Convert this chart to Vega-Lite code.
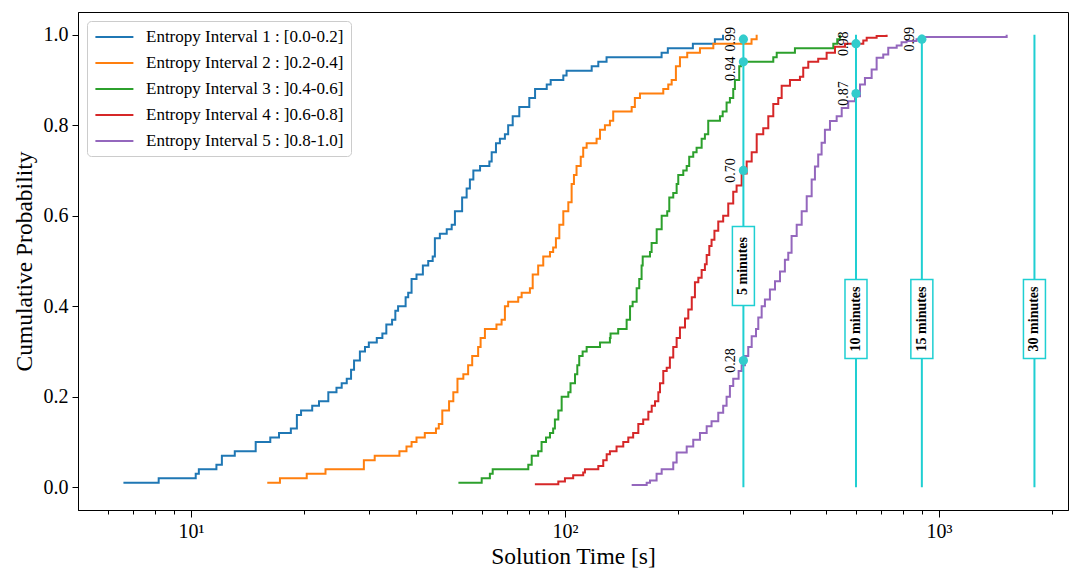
{
  "$schema": "https://vega.github.io/schema/vega-lite/v6.json",
  "width": 990,
  "height": 498,
  "autosize": {"type": "none"},
  "padding": {"left": 78, "top": 12, "right": 1, "bottom": 58},
  "background": "white",
  "config": {
    "font": "Liberation Serif",
    "view": {"stroke": "#000000", "strokeWidth": 1},
    "axis": {
      "labelFont": "Liberation Serif",
      "titleFont": "Liberation Serif",
      "labelColor": "#000000",
      "titleColor": "#000000",
      "domainColor": "#000000",
      "tickColor": "#000000",
      "grid": false,
      "titleFontWeight": "normal",
      "labelFontSize": 20,
      "titleFontSize": 23.5
    },
    "legend": {
      "orient": "none",
      "legendX": 9,
      "legendY": 9,
      "labelFont": "Liberation Serif",
      "labelFontSize": 17,
      "labelColor": "#000000",
      "labelLimit": 400,
      "symbolType": "M-1,0H4",
      "symbolStrokeWidth": 2,
      "symbolSize": 231,
      "padding": 7,
      "rowPadding": 9,
      "labelOffset": 34,
      "strokeColor": "#cccccc",
      "fillColor": "#ffffff",
      "cornerRadius": 4
    }
  },
  "datasets": {
    "series": [
      {"curve": 1, "label": "Entropy Interval 1 : [0.0-0.2]"},
      {"curve": 2, "label": "Entropy Interval 2 : ]0.2-0.4]"},
      {"curve": 3, "label": "Entropy Interval 3 : ]0.4-0.6]"},
      {"curve": 4, "label": "Entropy Interval 4 : ]0.6-0.8]"},
      {"curve": 5, "label": "Entropy Interval 5 : ]0.8-1.0]"}
    ],
    "curves": [
      {"curve": 1, "t": 6.6, "p": 0.01}, {"curve": 1, "t": 8.2, "p": 0.02}, {"curve": 1, "t": 10.3, "p": 0.03}, {"curve": 1, "t": 10.5, "p": 0.04},
      {"curve": 1, "t": 11.7, "p": 0.05}, {"curve": 1, "t": 12.1, "p": 0.07}, {"curve": 1, "t": 13.1, "p": 0.08}, {"curve": 1, "t": 14.9, "p": 0.10},
      {"curve": 1, "t": 16.3, "p": 0.11}, {"curve": 1, "t": 17.2, "p": 0.12}, {"curve": 1, "t": 18.5, "p": 0.13}, {"curve": 1, "t": 19.2, "p": 0.16},
      {"curve": 1, "t": 19.7, "p": 0.17}, {"curve": 1, "t": 21.1, "p": 0.18}, {"curve": 1, "t": 22.0, "p": 0.19}, {"curve": 1, "t": 23.3, "p": 0.21},
      {"curve": 1, "t": 24.5, "p": 0.22}, {"curve": 1, "t": 25.3, "p": 0.23}, {"curve": 1, "t": 26.1, "p": 0.24}, {"curve": 1, "t": 26.8, "p": 0.26},
      {"curve": 1, "t": 27.3, "p": 0.28}, {"curve": 1, "t": 28.3, "p": 0.30}, {"curve": 1, "t": 29.2, "p": 0.31}, {"curve": 1, "t": 29.9, "p": 0.32},
      {"curve": 1, "t": 31.4, "p": 0.33}, {"curve": 1, "t": 32.5, "p": 0.34}, {"curve": 1, "t": 33.3, "p": 0.36}, {"curve": 1, "t": 34.5, "p": 0.37},
      {"curve": 1, "t": 35.2, "p": 0.39}, {"curve": 1, "t": 35.8, "p": 0.40}, {"curve": 1, "t": 37.5, "p": 0.42}, {"curve": 1, "t": 38.1, "p": 0.43},
      {"curve": 1, "t": 38.9, "p": 0.46}, {"curve": 1, "t": 40.1, "p": 0.47}, {"curve": 1, "t": 41.7, "p": 0.49}, {"curve": 1, "t": 43.1, "p": 0.50},
      {"curve": 1, "t": 44.3, "p": 0.51}, {"curve": 1, "t": 44.9, "p": 0.55}, {"curve": 1, "t": 46.3, "p": 0.56}, {"curve": 1, "t": 48.3, "p": 0.57},
      {"curve": 1, "t": 49.8, "p": 0.58}, {"curve": 1, "t": 50.8, "p": 0.61}, {"curve": 1, "t": 53.1, "p": 0.64}, {"curve": 1, "t": 54.6, "p": 0.66},
      {"curve": 1, "t": 55.7, "p": 0.68}, {"curve": 1, "t": 56.9, "p": 0.70}, {"curve": 1, "t": 59.3, "p": 0.71}, {"curve": 1, "t": 62.8, "p": 0.72},
      {"curve": 1, "t": 63.7, "p": 0.74}, {"curve": 1, "t": 65.4, "p": 0.76}, {"curve": 1, "t": 67.0, "p": 0.77}, {"curve": 1, "t": 69.1, "p": 0.78},
      {"curve": 1, "t": 70.5, "p": 0.80}, {"curve": 1, "t": 72.5, "p": 0.82}, {"curve": 1, "t": 75.5, "p": 0.84}, {"curve": 1, "t": 80.3, "p": 0.86},
      {"curve": 1, "t": 83.2, "p": 0.88}, {"curve": 1, "t": 89.4, "p": 0.89}, {"curve": 1, "t": 91.6, "p": 0.90}, {"curve": 1, "t": 99.0, "p": 0.91},
      {"curve": 1, "t": 101, "p": 0.92}, {"curve": 1, "t": 117.9, "p": 0.93}, {"curve": 1, "t": 122.8, "p": 0.94}, {"curve": 1, "t": 129.2, "p": 0.95},
      {"curve": 1, "t": 181.3, "p": 0.96}, {"curve": 1, "t": 188.4, "p": 0.97}, {"curve": 1, "t": 219.8, "p": 0.98}, {"curve": 1, "t": 251.7, "p": 0.99},
      {"curve": 1, "t": 264.6, "p": 1.00},

      {"curve": 2, "t": 16.0, "p": 0.01}, {"curve": 2, "t": 17.3, "p": 0.02}, {"curve": 2, "t": 20.4, "p": 0.03}, {"curve": 2, "t": 22.9, "p": 0.04},
      {"curve": 2, "t": 29.0, "p": 0.06}, {"curve": 2, "t": 31.0, "p": 0.07}, {"curve": 2, "t": 36.1, "p": 0.08}, {"curve": 2, "t": 37.7, "p": 0.09},
      {"curve": 2, "t": 38.9, "p": 0.10}, {"curve": 2, "t": 40.1, "p": 0.11}, {"curve": 2, "t": 42.2, "p": 0.12}, {"curve": 2, "t": 45.2, "p": 0.13},
      {"curve": 2, "t": 46.0, "p": 0.14}, {"curve": 2, "t": 47.0, "p": 0.17}, {"curve": 2, "t": 49.0, "p": 0.19}, {"curve": 2, "t": 50.3, "p": 0.21},
      {"curve": 2, "t": 51.6, "p": 0.24}, {"curve": 2, "t": 53.5, "p": 0.25}, {"curve": 2, "t": 55.1, "p": 0.27}, {"curve": 2, "t": 56.5, "p": 0.29},
      {"curve": 2, "t": 58.6, "p": 0.31}, {"curve": 2, "t": 59.5, "p": 0.33}, {"curve": 2, "t": 61.1, "p": 0.35}, {"curve": 2, "t": 65.6, "p": 0.36},
      {"curve": 2, "t": 67.7, "p": 0.37}, {"curve": 2, "t": 69.1, "p": 0.40}, {"curve": 2, "t": 70.5, "p": 0.41}, {"curve": 2, "t": 75.0, "p": 0.42},
      {"curve": 2, "t": 76.6, "p": 0.43}, {"curve": 2, "t": 80.6, "p": 0.44}, {"curve": 2, "t": 82.0, "p": 0.47}, {"curve": 2, "t": 84.8, "p": 0.49},
      {"curve": 2, "t": 87.5, "p": 0.51}, {"curve": 2, "t": 91.2, "p": 0.52}, {"curve": 2, "t": 93.0, "p": 0.53}, {"curve": 2, "t": 94.6, "p": 0.55},
      {"curve": 2, "t": 96.6, "p": 0.58}, {"curve": 2, "t": 99.0, "p": 0.61}, {"curve": 2, "t": 102.1, "p": 0.63}, {"curve": 2, "t": 104.2, "p": 0.67},
      {"curve": 2, "t": 105.7, "p": 0.69}, {"curve": 2, "t": 107.4, "p": 0.71}, {"curve": 2, "t": 110.2, "p": 0.73}, {"curve": 2, "t": 111.9, "p": 0.75},
      {"curve": 2, "t": 114.3, "p": 0.76}, {"curve": 2, "t": 121.5, "p": 0.77}, {"curve": 2, "t": 124.1, "p": 0.79}, {"curve": 2, "t": 127.9, "p": 0.80},
      {"curve": 2, "t": 131.9, "p": 0.81}, {"curve": 2, "t": 134.6, "p": 0.83}, {"curve": 2, "t": 150.8, "p": 0.84}, {"curve": 2, "t": 153.8, "p": 0.86},
      {"curve": 2, "t": 158.7, "p": 0.87}, {"curve": 2, "t": 183.2, "p": 0.88}, {"curve": 2, "t": 188.9, "p": 0.89}, {"curve": 2, "t": 192.9, "p": 0.90},
      {"curve": 2, "t": 198.0, "p": 0.93}, {"curve": 2, "t": 203.0, "p": 0.95}, {"curve": 2, "t": 212.3, "p": 0.96}, {"curve": 2, "t": 229.6, "p": 0.97},
      {"curve": 2, "t": 249.3, "p": 0.98}, {"curve": 2, "t": 315.4, "p": 0.99}, {"curve": 2, "t": 325.5, "p": 1.00},

      {"curve": 3, "t": 51.9, "p": 0.01}, {"curve": 3, "t": 59.9, "p": 0.02}, {"curve": 3, "t": 63.0, "p": 0.03}, {"curve": 3, "t": 64.1, "p": 0.04},
      {"curve": 3, "t": 79.8, "p": 0.05}, {"curve": 3, "t": 81.5, "p": 0.07}, {"curve": 3, "t": 84.8, "p": 0.08}, {"curve": 3, "t": 86.6, "p": 0.10},
      {"curve": 3, "t": 89.0, "p": 0.11}, {"curve": 3, "t": 91.2, "p": 0.12}, {"curve": 3, "t": 93.0, "p": 0.13}, {"curve": 3, "t": 94.0, "p": 0.15},
      {"curve": 3, "t": 96.0, "p": 0.17}, {"curve": 3, "t": 98.0, "p": 0.20}, {"curve": 3, "t": 102.1, "p": 0.21}, {"curve": 3, "t": 103.5, "p": 0.23},
      {"curve": 3, "t": 106.4, "p": 0.25}, {"curve": 3, "t": 107.9, "p": 0.27}, {"curve": 3, "t": 109.2, "p": 0.29}, {"curve": 3, "t": 111.5, "p": 0.30},
      {"curve": 3, "t": 114.3, "p": 0.31}, {"curve": 3, "t": 124.1, "p": 0.32}, {"curve": 3, "t": 131.9, "p": 0.33}, {"curve": 3, "t": 132.4, "p": 0.34},
      {"curve": 3, "t": 138.8, "p": 0.35}, {"curve": 3, "t": 146.2, "p": 0.37}, {"curve": 3, "t": 149.3, "p": 0.40}, {"curve": 3, "t": 151.7, "p": 0.41},
      {"curve": 3, "t": 155.5, "p": 0.44}, {"curve": 3, "t": 158.0, "p": 0.46}, {"curve": 3, "t": 160.3, "p": 0.49}, {"curve": 3, "t": 161.4, "p": 0.51},
      {"curve": 3, "t": 168.8, "p": 0.52}, {"curve": 3, "t": 170.5, "p": 0.54}, {"curve": 3, "t": 175.9, "p": 0.57}, {"curve": 3, "t": 181.4, "p": 0.60},
      {"curve": 3, "t": 187.7, "p": 0.61}, {"curve": 3, "t": 190.1, "p": 0.64}, {"curve": 3, "t": 194.8, "p": 0.65}, {"curve": 3, "t": 198.9, "p": 0.67},
      {"curve": 3, "t": 200.9, "p": 0.69}, {"curve": 3, "t": 207.2, "p": 0.70}, {"curve": 3, "t": 211.6, "p": 0.71}, {"curve": 3, "t": 214.9, "p": 0.73},
      {"curve": 3, "t": 220.3, "p": 0.74}, {"curve": 3, "t": 224.9, "p": 0.75}, {"curve": 3, "t": 232.0, "p": 0.77}, {"curve": 3, "t": 236.7, "p": 0.78},
      {"curve": 3, "t": 241.6, "p": 0.81}, {"curve": 3, "t": 259.7, "p": 0.82}, {"curve": 3, "t": 264.1, "p": 0.83}, {"curve": 3, "t": 270.5, "p": 0.85},
      {"curve": 3, "t": 276.1, "p": 0.86}, {"curve": 3, "t": 281.8, "p": 0.88}, {"curve": 3, "t": 284.7, "p": 0.90}, {"curve": 3, "t": 292.4, "p": 0.93},
      {"curve": 3, "t": 295.5, "p": 0.94}, {"curve": 3, "t": 360.6, "p": 0.95}, {"curve": 3, "t": 368.3, "p": 0.96}, {"curve": 3, "t": 412.0, "p": 0.97},
      {"curve": 3, "t": 521.8, "p": 0.98}, {"curve": 3, "t": 534.6, "p": 0.99}, {"curve": 3, "t": 543.3, "p": 1.00},

      {"curve": 4, "t": 83.1, "p": 0.007}, {"curve": 4, "t": 96.0, "p": 0.013}, {"curve": 4, "t": 100.0, "p": 0.020}, {"curve": 4, "t": 105.2, "p": 0.027},
      {"curve": 4, "t": 111.9, "p": 0.033}, {"curve": 4, "t": 113.1, "p": 0.040}, {"curve": 4, "t": 122.8, "p": 0.047}, {"curve": 4, "t": 126.6, "p": 0.060},
      {"curve": 4, "t": 129.3, "p": 0.073}, {"curve": 4, "t": 131.9, "p": 0.080}, {"curve": 4, "t": 137.4, "p": 0.090}, {"curve": 4, "t": 143.2, "p": 0.100},
      {"curve": 4, "t": 147.7, "p": 0.110}, {"curve": 4, "t": 152.2, "p": 0.120}, {"curve": 4, "t": 157.1, "p": 0.140}, {"curve": 4, "t": 161.9, "p": 0.150},
      {"curve": 4, "t": 167.1, "p": 0.167}, {"curve": 4, "t": 170.6, "p": 0.180}, {"curve": 4, "t": 174.1, "p": 0.190}, {"curve": 4, "t": 177.7, "p": 0.210},
      {"curve": 4, "t": 179.5, "p": 0.230}, {"curve": 4, "t": 183.2, "p": 0.257}, {"curve": 4, "t": 187.1, "p": 0.264}, {"curve": 4, "t": 190.8, "p": 0.287},
      {"curve": 4, "t": 194.8, "p": 0.310}, {"curve": 4, "t": 198.9, "p": 0.330}, {"curve": 4, "t": 203.0, "p": 0.353}, {"curve": 4, "t": 209.4, "p": 0.373},
      {"curve": 4, "t": 213.7, "p": 0.393}, {"curve": 4, "t": 218.3, "p": 0.420}, {"curve": 4, "t": 222.6, "p": 0.453}, {"curve": 4, "t": 227.3, "p": 0.463},
      {"curve": 4, "t": 232.0, "p": 0.480}, {"curve": 4, "t": 236.7, "p": 0.493}, {"curve": 4, "t": 239.3, "p": 0.513}, {"curve": 4, "t": 243.2, "p": 0.533},
      {"curve": 4, "t": 246.6, "p": 0.547}, {"curve": 4, "t": 251.0, "p": 0.567}, {"curve": 4, "t": 257.0, "p": 0.587}, {"curve": 4, "t": 264.9, "p": 0.600},
      {"curve": 4, "t": 273.3, "p": 0.627}, {"curve": 4, "t": 281.8, "p": 0.653}, {"curve": 4, "t": 287.7, "p": 0.667}, {"curve": 4, "t": 296.8, "p": 0.693},
      {"curve": 4, "t": 306.1, "p": 0.720}, {"curve": 4, "t": 315.7, "p": 0.740}, {"curve": 4, "t": 325.6, "p": 0.780}, {"curve": 4, "t": 339.0, "p": 0.793},
      {"curve": 4, "t": 349.7, "p": 0.820}, {"curve": 4, "t": 360.6, "p": 0.847}, {"curve": 4, "t": 371.8, "p": 0.860}, {"curve": 4, "t": 379.7, "p": 0.887},
      {"curve": 4, "t": 399.6, "p": 0.900}, {"curve": 4, "t": 424.9, "p": 0.907}, {"curve": 4, "t": 433.6, "p": 0.927}, {"curve": 4, "t": 447.3, "p": 0.940},
      {"curve": 4, "t": 475.5, "p": 0.947}, {"curve": 4, "t": 500.8, "p": 0.960}, {"curve": 4, "t": 527.2, "p": 0.973}, {"curve": 4, "t": 560.8, "p": 0.980},
      {"curve": 4, "t": 627.6, "p": 0.987}, {"curve": 4, "t": 640.9, "p": 0.993}, {"curve": 4, "t": 681.3, "p": 0.997}, {"curve": 4, "t": 724.5, "p": 1.000},

      {"curve": 5, "t": 150.8, "p": 0.005}, {"curve": 5, "t": 165.4, "p": 0.010}, {"curve": 5, "t": 168.8, "p": 0.015}, {"curve": 5, "t": 175.8, "p": 0.030},
      {"curve": 5, "t": 181.4, "p": 0.040}, {"curve": 5, "t": 194.8, "p": 0.055}, {"curve": 5, "t": 198.9, "p": 0.077}, {"curve": 5, "t": 211.6, "p": 0.090},
      {"curve": 5, "t": 220.3, "p": 0.105}, {"curve": 5, "t": 229.6, "p": 0.120}, {"curve": 5, "t": 239.3, "p": 0.135}, {"curve": 5, "t": 246.6, "p": 0.146},
      {"curve": 5, "t": 257.0, "p": 0.165}, {"curve": 5, "t": 264.9, "p": 0.180}, {"curve": 5, "t": 270.5, "p": 0.200}, {"curve": 5, "t": 276.1, "p": 0.224},
      {"curve": 5, "t": 281.8, "p": 0.240}, {"curve": 5, "t": 291.3, "p": 0.257}, {"curve": 5, "t": 296.8, "p": 0.270}, {"curve": 5, "t": 302.9, "p": 0.290},
      {"curve": 5, "t": 309.1, "p": 0.310}, {"curve": 5, "t": 315.7, "p": 0.334}, {"curve": 5, "t": 324.2, "p": 0.350}, {"curve": 5, "t": 328.8, "p": 0.375},
      {"curve": 5, "t": 335.7, "p": 0.400}, {"curve": 5, "t": 342.5, "p": 0.415}, {"curve": 5, "t": 353.2, "p": 0.437}, {"curve": 5, "t": 364.4, "p": 0.455},
      {"curve": 5, "t": 375.8, "p": 0.477}, {"curve": 5, "t": 387.3, "p": 0.503}, {"curve": 5, "t": 395.4, "p": 0.518}, {"curve": 5, "t": 403.6, "p": 0.555},
      {"curve": 5, "t": 416.5, "p": 0.580}, {"curve": 5, "t": 429.5, "p": 0.610}, {"curve": 5, "t": 443.0, "p": 0.643}, {"curve": 5, "t": 456.7, "p": 0.680},
      {"curve": 5, "t": 466.0, "p": 0.709}, {"curve": 5, "t": 475.5, "p": 0.735}, {"curve": 5, "t": 485.5, "p": 0.761}, {"curve": 5, "t": 495.5, "p": 0.790},
      {"curve": 5, "t": 511.2, "p": 0.809}, {"curve": 5, "t": 532.7, "p": 0.820}, {"curve": 5, "t": 549.5, "p": 0.838}, {"curve": 5, "t": 572.1, "p": 0.853},
      {"curve": 5, "t": 596.3, "p": 0.864}, {"curve": 5, "t": 615.0, "p": 0.890}, {"curve": 5, "t": 634.0, "p": 0.904}, {"curve": 5, "t": 660.7, "p": 0.923},
      {"curve": 5, "t": 681.3, "p": 0.949}, {"curve": 5, "t": 709.6, "p": 0.956}, {"curve": 5, "t": 731.8, "p": 0.971}, {"curve": 5, "t": 770.9, "p": 0.976},
      {"curve": 5, "t": 794.3, "p": 0.983}, {"curve": 5, "t": 819.1, "p": 0.986}, {"curve": 5, "t": 871.0, "p": 0.990}, {"curve": 5, "t": 895.0, "p": 0.995},
      {"curve": 5, "t": 1517.0, "p": 1.000}
    ],
    "limits": [
      {"t": 300, "name": "5 minutes", "p": 0.489},
      {"t": 600, "name": "10 minutes", "p": 0.372},
      {"t": 900, "name": "15 minutes", "p": 0.372},
      {"t": 1800, "name": "30 minutes", "p": 0.372}
    ],
    "marks": [
      {"t": 300, "p": 0.99},
      {"t": 300, "p": 0.94},
      {"t": 300, "p": 0.70},
      {"t": 300, "p": 0.28},
      {"t": 600, "p": 0.98},
      {"t": 600, "p": 0.87},
      {"t": 900, "p": 0.99}
    ]
  },
  "encoding": {
    "x": {
      "field": "t",
      "type": "quantitative",
      "title": "Solution Time [s]",
      "scale": {"type": "log", "domain": [4.99, 2213], "nice": false},
      "axis": {
        "values": [6, 7, 8, 9, 10, 20, 30, 40, 50, 60, 70, 80, 90, 100, 200, 300, 400, 500, 600, 700, 800, 900, 1000, 2000],
        "labelExpr": "datum.value == 10 ? '10¹' : datum.value == 100 ? '10²' : datum.value == 1000 ? '10³' : ''",
        "tickSize": {"condition": {"test": "datum.value == 10 || datum.value == 100 || datum.value == 1000", "value": 7}, "value": 4},
        "labelOverlap": false,
        "labelFlush": false,
        "labelPadding": 4,
        "titlePadding": 3
      }
    },
    "y": {
      "field": "p",
      "type": "quantitative",
      "title": "Cumulative Probability",
      "scale": {"domain": [-0.05, 1.05], "nice": false, "zero": false},
      "axis": {
        "values": [0, 0.2, 0.4, 0.6, 0.8, 1.0],
        "format": ".1f",
        "tickSize": 6,
        "labelPadding": 4,
        "titlePadding": 7
      }
    }
  },
  "layer": [
    {
      "data": {"name": "curves"},
      "transform": [
        {"lookup": "curve", "from": {"data": {"name": "series"}, "key": "curve", "fields": ["label"]}}
      ],
      "mark": {"type": "line", "interpolate": "step-after", "strokeWidth": 2},
      "encoding": {
        "color": {
          "field": "label",
          "type": "nominal",
          "title": null,
          "scale": {
            "domain": [
              "Entropy Interval 1 : [0.0-0.2]",
              "Entropy Interval 2 : ]0.2-0.4]",
              "Entropy Interval 3 : ]0.4-0.6]",
              "Entropy Interval 4 : ]0.6-0.8]",
              "Entropy Interval 5 : ]0.8-1.0]"
            ],
            "range": ["#1f77b4", "#ff7f0e", "#2ca02c", "#d62728", "#9467bd"]
          }
        }
      }
    },
    {
      "data": {"name": "limits"},
      "mark": {"type": "rule", "color": "#1fcfd2", "strokeWidth": 2},
      "encoding": {
        "y": {"datum": 0, "type": "quantitative"},
        "y2": {"datum": 1}
      }
    },
    {
      "data": {"name": "limits"},
      "mark": {
        "type": "point",
        "shape": "M-0.2785,-1H0.2785V1H-0.2785Z",
        "size": 6241,
        "filled": false,
        "fill": "#ffffff",
        "fillOpacity": 1,
        "stroke": "#1fcfd2",
        "strokeWidth": 1.5,
        "opacity": 1
      },
      "encoding": {}
    },
    {
      "data": {"name": "limits"},
      "mark": {"type": "text", "angle": 270, "align": "center", "baseline": "middle", "fontSize": 14, "fontWeight": "bold", "color": "#000000", "font": "Liberation Serif"},
      "encoding": {
        "text": {"field": "name"}
      }
    },
    {
      "data": {"name": "marks"},
      "mark": {"type": "point", "filled": true, "size": 85, "color": "#33cccc", "opacity": 1},
      "encoding": {}
    },
    {
      "data": {"name": "marks"},
      "mark": {
        "type": "text",
        "angle": 270,
        "align": "center",
        "baseline": "middle",
        "dy": -12,
        "dx": {"expr": "datum.p == 0.94 ? -7 : 0"},
        "fontSize": 14,
        "color": "#000000",
        "font": "Liberation Serif"
      },
      "encoding": {
        "text": {"field": "p", "type": "quantitative", "format": ".2f"}
      }
    }
  ]
}
